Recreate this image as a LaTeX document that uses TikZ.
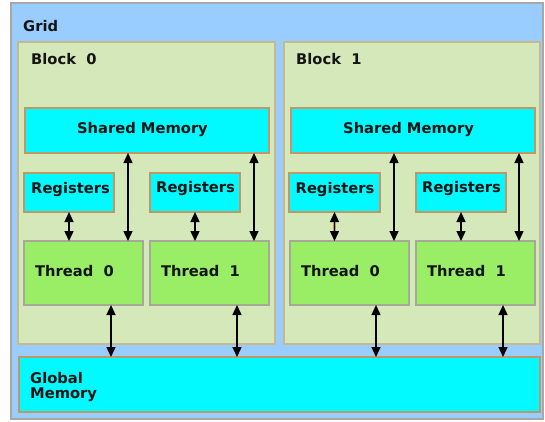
\documentclass[tikz,border=0pt]{standalone}
\usepackage{fontspec}
\setmainfont{DejaVu Sans}
\usetikzlibrary{arrows.meta,calc}
\definecolor{gridfill}{HTML}{99CCFF}
\definecolor{gridline}{HTML}{A8A8A8}
\definecolor{blockfill}{HTML}{D5E8B9}
\definecolor{blockline}{HTML}{C8B890}
\definecolor{memfill}{HTML}{00FAFF}
\definecolor{memline}{HTML}{C09868}
\definecolor{thfill}{HTML}{99EE66}
\definecolor{thline}{HTML}{A8A898}
\definecolor{arrgold}{HTML}{C8A020}
\tikzset{
  box/.style={draw, line width=1.4pt, inner sep=0pt, outer sep=0pt},
  gridbox/.style={box, draw=gridline, fill=gridfill},
  blockbox/.style={box, draw=blockline, fill=blockfill},
  membox/.style={box, draw=memline, fill=memfill},
  thbox/.style={box, draw=thline, fill=thfill},
  lbl/.style={font=\bfseries\fontsize{14.7}{16.5}\selectfont, inner sep=0pt, text=black!92},
  dblarrow/.style={line width=1.4pt, {Triangle[width=9pt,length=10pt]}-{Triangle[width=9pt,length=10pt]}, black},
  goldline/.style={line width=2.8pt, arrgold, shorten <=7pt, shorten >=7pt},
}
\begin{document}
\begin{tikzpicture}[x=1pt,y=-1pt]
\useasboundingbox (0,0) rectangle (545,421);
\fill[white] (0,0) rectangle (545,421);
% grid
\node[gridbox, minimum width=532pt, minimum height=416pt] (grid) at (277,211) {};
\node[lbl, anchor=west] (gridl) at (23,26) {Grid};
% blocks
\node[blockbox, minimum width=257pt, minimum height=302pt] (b0) at (146.5,193) {};
\node[blockbox, minimum width=256pt, minimum height=302pt] (b1) at (412,193) {};
\node[lbl, anchor=west] (b0l) at (31,59) {Block\ \ 0};
\node[lbl, anchor=west] (b1l) at (296,59) {Block\ \ 1};
% shared memory
\node[membox, minimum width=244pt, minimum height=45pt] (sm0) at (147,130.5) {};
\node[membox, minimum width=244pt, minimum height=45pt] (sm1) at (413,130.5) {};
\node[lbl] (sm0l) at (142.5,129.5) {Shared Memory};
\node[lbl] (sm1l) at (408.5,129.5) {Shared Memory};
% registers
\node[membox, minimum width=90pt, minimum height=39pt] (r00) at (69,192.5) {};
\node[membox, minimum width=90pt, minimum height=39pt] (r01) at (195,192.5) {};
\node[membox, minimum width=91pt, minimum height=39pt] (r10) at (334.5,192.5) {};
\node[membox, minimum width=90pt, minimum height=39pt] (r11) at (461,192.5) {};
\node[lbl] (r00l) at (70.5,189) {Registers};
\node[lbl] (r01l) at (195.5,188) {Registers};
\node[lbl] (r10l) at (335,189) {Registers};
\node[lbl] (r11l) at (461.5,188) {Registers};
% threads
\node[thbox, minimum width=119pt, minimum height=64pt] (t00) at (83.5,273) {};
\node[thbox, minimum width=119pt, minimum height=64pt] (t01) at (209.5,273) {};
\node[thbox, minimum width=119pt, minimum height=64pt] (t10) at (349.5,273) {};
\node[thbox, minimum width=119pt, minimum height=64pt] (t11) at (475.5,273) {};
\node[lbl, anchor=west] (t00l) at (35,271) {Thread\ \ 0};
\node[lbl, anchor=west] (t01l) at (161,271) {Thread\ \ 1};
\node[lbl, anchor=west] (t10l) at (301,271) {Thread\ \ 0};
\node[lbl, anchor=west] (t11l) at (427,271) {Thread\ \ 1};
% global memory
\node[membox, minimum width=521pt, minimum height=55pt] (gm) at (279.5,384.5) {};
\node[lbl, anchor=west, align=left] (gml) at (30,387) {Global\\[-1pt]Memory};
% arrows: registers <-> threads
\foreach \r/\t in {r00/t00, r01/t01, r10/t10, r11/t11}{
  \draw[goldline] (\r.south) -- (\r.south |- \t.north);
  \draw[dblarrow] (\r.south) -- (\r.south |- \t.north);
}
% arrows: shared memory <-> threads
\foreach \s/\t/\d in {sm0/t00/15, sm0/t01/15, sm1/t10/15, sm1/t11/16}{
  \draw[goldline, line width=2.4pt] ([xshift=-\d pt]\t.north east |- \s.south) -- ([xshift=-\d pt]\t.north east);
  \draw[dblarrow] ([xshift=-\d pt]\t.north east |- \s.south) -- ([xshift=-\d pt]\t.north east);
}
% arrows: threads <-> global memory
\foreach \t/\d in {t00/32, t01/32, t10/33, t11/32}{
  \draw[goldline] ([xshift=-\d pt]\t.south east) -- ([xshift=-\d pt]\t.south east |- gm.north);
  \draw[dblarrow] ([xshift=-\d pt]\t.south east) -- ([xshift=-\d pt]\t.south east |- gm.north);
}
\end{tikzpicture}
\end{document}
